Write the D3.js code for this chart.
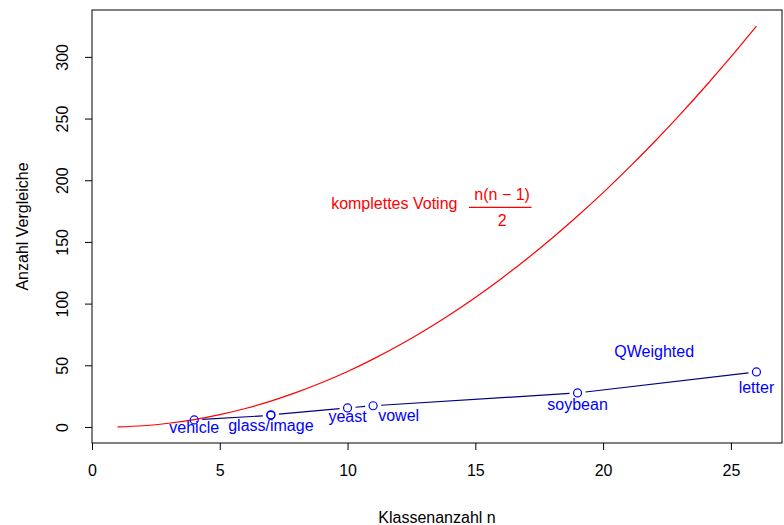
<!DOCTYPE html>
<html lang="de">
<head>
<meta charset="UTF-8">
<script src="https://d3js.org/d3.v7.min.js"></script>
<style>
  body { margin: 0; background: #fff; }
  svg { display: block; font-family: "Liberation Sans", Arial, Helvetica, sans-serif; }
</style>
</head>
<body>
<script>
// complete voting: n(n-1)/2 for n = 1..26
const votingN = d3.range(1, 27);
const votingValues = [0, 1, 3, 6, 10, 15, 21, 28, 36, 45, 55, 66, 78, 91, 105,
                      120, 136, 153, 171, 190, 210, 231, 253, 276, 300, 325];

// QWeighted comparisons per data set
const datasets = ['vehicle', 'glass', 'image', 'yeast', 'vowel', 'soybean', 'letter'];
const classes  = [4, 7, 7, 10, 11, 19, 26];
const qweighted = [5.7, 9.4, 9.9, 15.4, 17.2, 27.6, 44.6];

// text labels, in data coordinates
const labelText = ['vehicle', 'glass/image', 'yeast', 'vowel', 'soybean', 'letter'];
const labelX    = [4, 7, 10, 12, 19, 26];
const labelY    = [-4.9, -3.4, 4.1, 4.9, 13.8, 27.6];

const xTicks = [0, 5, 10, 15, 20, 25];
const yTicks = [0, 50, 100, 150, 200, 250, 300];

const W = 784, H = 525;
const margin = { top: 10, right: 2, bottom: 82, left: 92 };

const svg = d3.select('body').append('svg')
  .attr('width', W).attr('height', H);

const x = d3.scaleLinear().domain([0, 27]).range([margin.left, W - margin.right]);
const y = d3.scaleLinear().domain([-13, 338]).range([H - margin.bottom, margin.top]);

// box
svg.append('rect')
  .attr('x', margin.left).attr('y', margin.top)
  .attr('width', W - margin.right - margin.left)
  .attr('height', H - margin.bottom - margin.top)
  .attr('fill', 'none').attr('stroke', '#000').attr('stroke-width', 1);

// axes
const xAxis = svg.append('g')
  .attr('transform', `translate(0,${H - margin.bottom})`)
  .call(d3.axisBottom(x).tickValues(xTicks).tickSize(7).tickPadding(15).tickSizeOuter(0));
const yAxis = svg.append('g')
  .attr('transform', `translate(${margin.left},0)`)
  .call(d3.axisLeft(y).tickValues(yTicks).tickSize(7).tickSizeOuter(0));

[xAxis, yAxis].forEach(g => {
  g.select('.domain').remove();
  g.selectAll('text').attr('font-size', 16).attr('fill', '#000')
    .attr('font-family', '"Liberation Sans", Arial, sans-serif');
  g.selectAll('line').attr('stroke', '#000');
});
// y tick labels parallel to the axis (tick groups already carry the y offset)
yAxis.selectAll('text')
  .attr('text-anchor', 'middle')
  .attr('transform', 'translate(-30,0) rotate(-90)')
  .attr('x', 0).attr('y', 0).attr('dy', '0.35em');

// axis titles
svg.append('text')
  .attr('x', (margin.left + W - margin.right) / 2).attr('y', 523)
  .attr('text-anchor', 'middle').attr('font-size', 16)
  .text('Klassenanzahl n');
svg.append('text')
  .attr('transform', `translate(28,${(margin.top + H - margin.bottom) / 2}) rotate(-90)`)
  .attr('text-anchor', 'middle').attr('font-size', 16)
  .text('Anzahl Vergleiche');

// red curve
const red = '#ff0000';
svg.append('path')
  .datum(votingN.map((n, i) => [n, votingValues[i]]))
  .attr('fill', 'none').attr('stroke', red).attr('stroke-width', 1.2)
  .attr('d', d3.line().x(d => x(d[0])).y(d => y(d[1])).curve(d3.curveMonotoneX));

// red label with fraction
const vg = svg.append('g').attr('fill', red).attr('font-size', 16);
vg.append('text').attr('x', x(14.3)).attr('y', y(177)).attr('text-anchor', 'end')
  .text('komplettes Voting');
vg.append('text').attr('x', x(16.05)).attr('y', y(184)).attr('text-anchor', 'middle')
  .text('n(n \u2212 1)');
vg.append('line')
  .attr('x1', x(14.75)).attr('x2', x(17.2)).attr('y1', y(178)).attr('y2', y(178))
  .attr('stroke', red).attr('stroke-width', 1.2);
vg.append('text').attr('x', x(16.05)).attr('y', y(163)).attr('text-anchor', 'middle')
  .text('2');

// QWeighted line (type "b": gaps at points)
const pts = classes.map((c, i) => [x(c), y(qweighted[i])]);
const gap = 8;
const segs = [];
for (let i = 0; i < pts.length - 1; i++) {
  const [x0, y0] = pts[i], [x1, y1] = pts[i + 1];
  const len = Math.hypot(x1 - x0, y1 - y0);
  if (len <= 2 * gap) continue;
  const ux = (x1 - x0) / len, uy = (y1 - y0) / len;
  segs.push([x0 + ux * gap, y0 + uy * gap, x1 - ux * gap, y1 - uy * gap]);
}
svg.append('g').selectAll('line').data(segs).join('line')
  .attr('x1', d => d[0]).attr('y1', d => d[1])
  .attr('x2', d => d[2]).attr('y2', d => d[3])
  .attr('stroke', '#000080').attr('stroke-width', 1.2);

svg.append('g').selectAll('circle').data(datasets).join('circle')
  .attr('cx', (d, i) => x(classes[i])).attr('cy', (d, i) => y(qweighted[i]))
  .attr('r', 4).attr('fill', 'none').attr('stroke', '#0000ff').attr('stroke-width', 1.2);

svg.append('g').selectAll('text').data(labelText).join('text')
  .attr('x', (d, i) => x(labelX[i])).attr('y', (d, i) => y(labelY[i]))
  .attr('text-anchor', 'middle').attr('font-size', 16).attr('fill', '#0000ff')
  .text(d => d);

svg.append('text')
  .attr('x', x(22)).attr('y', y(56.8))
  .attr('text-anchor', 'middle').attr('font-size', 16).attr('fill', '#0000ff')
  .text('QWeighted');
</script>
</body>
</html>
